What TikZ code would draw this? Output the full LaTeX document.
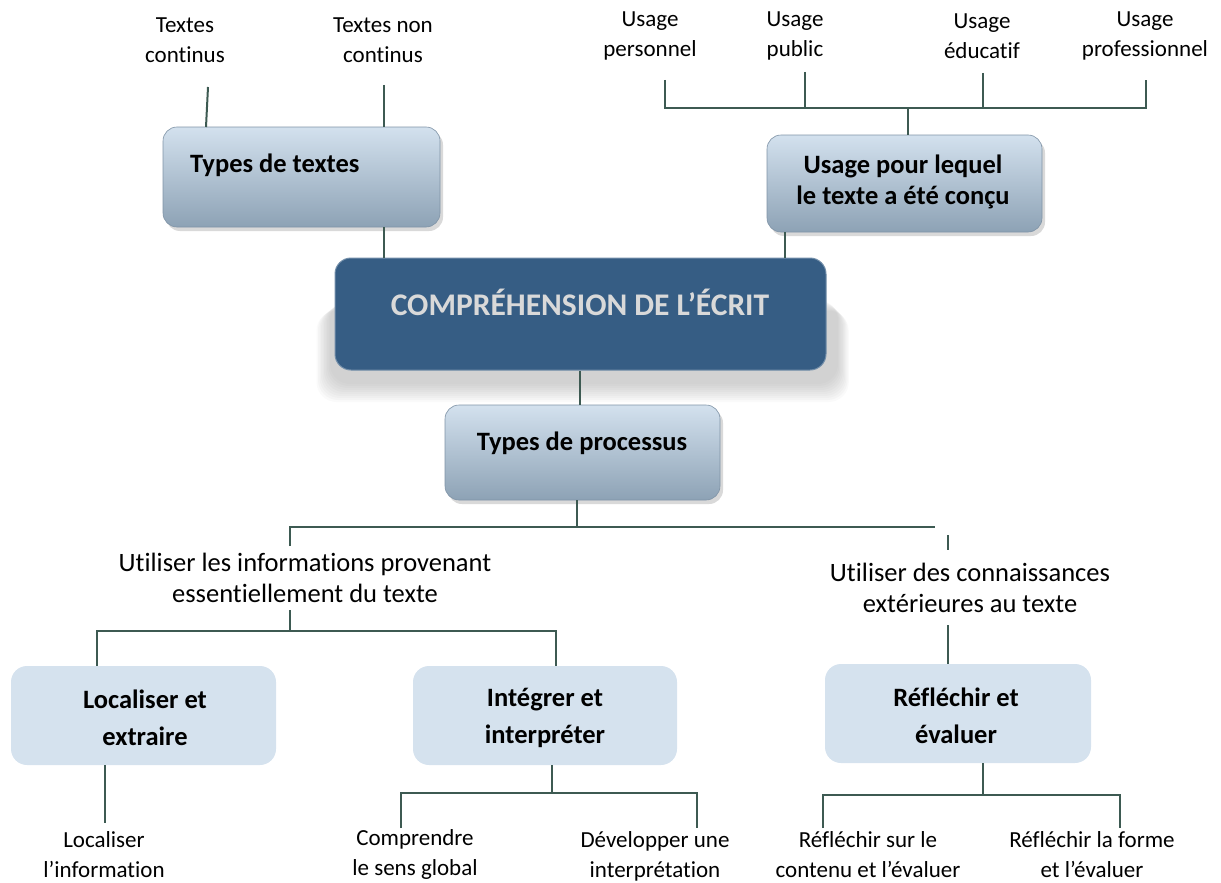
\documentclass[tikz,border=0pt]{standalone}
\usepackage{fontspec}
\setmainfont{Carlito}[Ligatures=NoCommon]
\usepackage{xcolor}
\usetikzlibrary{positioning, shadows}

\definecolor{linkgreen}{HTML}{3D5A52}
\definecolor{glossTop}{HTML}{D3E1EE}
\definecolor{glossMid}{HTML}{AFC2D4}
\definecolor{glossBot}{HTML}{8DA2B5}
\definecolor{glossEdge}{HTML}{7F93A6}
\definecolor{mainBlue}{HTML}{365D84}
\definecolor{flatBlue}{HTML}{D5E2EE}

\tikzset{
  link/.style={draw=linkgreen, line width=2},
  glossy/.style={rounded corners=14, top color=glossTop, middle color=glossMid, bottom color=glossBot,
    draw=glossEdge, line width=0.6, drop shadow={shadow xshift=3pt, shadow yshift=-4pt, opacity=.3}},
  mainbox/.style={rounded corners=16, fill=mainBlue, draw=mainBlue!70!white, line width=1},
  flatbox/.style={rounded corners=16, fill=flatBlue, minimum width=265, minimum height=99},
  boxtext/.style={font=\fontsize{26.5}{31}\selectfont\bfseries, align=center, inner sep=0},
  leaf/.style={font=\fontsize{23}{30}\selectfont, align=center, inner sep=0},
  branch/.style={font=\fontsize{26.5}{31}\selectfont, align=center, inner sep=0}
}

\begin{document}
\begin{tikzpicture}[x=1pt, y=-1pt]
\useasboundingbox (0,0) rectangle (1221,883);

% top row
\node[leaf] (tcont) at (185,40) {Textes\\continus};
\node[leaf] (tnoncont) at (383,40) {Textes non\\continus};
\node[leaf] (uperso) at (650,36) {Usage\\personnel};
\node[leaf] (upublic) at (795,36) {Usage\\public};
\node[leaf] (uedu) at (982,36) {Usage\\éducatif};
\node[leaf] (upro) at (1145,36) {Usage\\professionnel};

% glossy boxes
\node[glossy, minimum width=277, minimum height=100] (types) at (301.5,177) {};
\node[boxtext, anchor=west] (typesT) at (190,165) {Types de textes};
\node[glossy, minimum width=275, minimum height=97] (usage) at (904.5,183.5) {};
\node[boxtext] (usageT) at (903,182) {Usage pour lequel\\le texte a été conçu};

% soft shadow of the main box
\foreach \s in {0,...,9}
  \fill[gray, opacity=.045, rounded corners=20] (330-\s*1.5,300+\s*1.2) rectangle (838+\s*1.2,384+\s*2);
\node[mainbox, minimum width=491, minimum height=112] (compr) at (580.5,314) {};
\node[font=\fontsize{31.5}{34}\selectfont\bfseries, text=black!15] (comprT) at (580,302) {COMPRÉHENSION DE L’ÉCRIT};

\node[glossy, minimum width=275, minimum height=95] (proc) at (582.5,452.5) {};
\node[boxtext] (procT) at (582,443) {Types de processus};

% middle labels
\node[branch] (infos) at (305,578) {Utiliser les informations provenant\\essentiellement du texte};
\node[branch] (extern) at (970,588) {Utiliser des connaissances\\extérieures au texte};

% flat boxes
\node[flatbox] (loc) at (143.5,715.5) {};
\node[boxtext, font=\fontsize{26.5}{37}\selectfont\bfseries] (locT) at (145,718) {Localiser et\\extraire};
\node[flatbox, minimum width=264] (integ) at (545,715.5) {};
\node[boxtext, font=\fontsize{26.5}{37}\selectfont\bfseries] (integT) at (545,718) {Intégrer et\\interpréter};
\node[flatbox, minimum width=266] (refl) at (958,713.5) {};
\node[boxtext, font=\fontsize{26.5}{37}\selectfont\bfseries] (reflT) at (956,716) {Réfléchir et\\évaluer};

% bottom row
\node[leaf] (locinfo) at (104,855) {Localiser\\l’information};
\node[leaf] (sens) at (415,854) {Comprendre\\le sens global};
\node[leaf] (interp) at (655,856) {Développer une\\interprétation};
\node[leaf] (contenu) at (868,855) {Réfléchir sur le\\contenu et l’évaluer};
\node[leaf] (forme) at (1092,855) {Réfléchir la forme\\et l’évaluer};

% junctions
\coordinate (tcEnd) at (208,87);
\coordinate (uBar) at (908,108);
\coordinate (pBar) at (577,527);
\coordinate (iBar) at (290,631);
\coordinate (gBar) at (552,793);
\coordinate (rBar) at (983,795);

% connectors
\draw[link] (tcEnd) -- (206,127);
\draw[link] (384,85) -- (types.north -| 384,0);
\draw[link] (types.south -| 384,0) -- (compr.north -| 384,0);
\draw[link] (665,80) |- (uBar -| 1146,0) -- (1146,80);
\draw[link] (805,72) -- (805,108);
\draw[link] (983,73) -- (983,108);
\draw[link] (uBar) -- (usage.north -| uBar);
\draw[link] (usage.south -| 785,0) -- (compr.north -| 785,0);
\draw[link] (compr.south -| 580,0) -- (proc.north -| 580,0);
\draw[link] (proc.south -| pBar) -- (pBar);
\draw[link] (290,546) |- (935,527);
\draw[link] (948,535) -- (948,550);
\draw[link] (290,610) -- (iBar);
\draw[link] (loc.north -| 97,0) |- (iBar) -| (integ.north -| 556,0);
\draw[link] (948,625) -- (refl.north -| 948,0);
\draw[link] (loc.south -| 105,0) -- (105,823);
\draw[link] (integ.south -| gBar) -- (gBar);
\draw[link] (401,828) |- (gBar) -| (697,828);
\draw[link] (refl.south -| rBar) -- (rBar);
\draw[link] (823,828) |- (rBar) -| (1120,828);
\end{tikzpicture}
\end{document}
